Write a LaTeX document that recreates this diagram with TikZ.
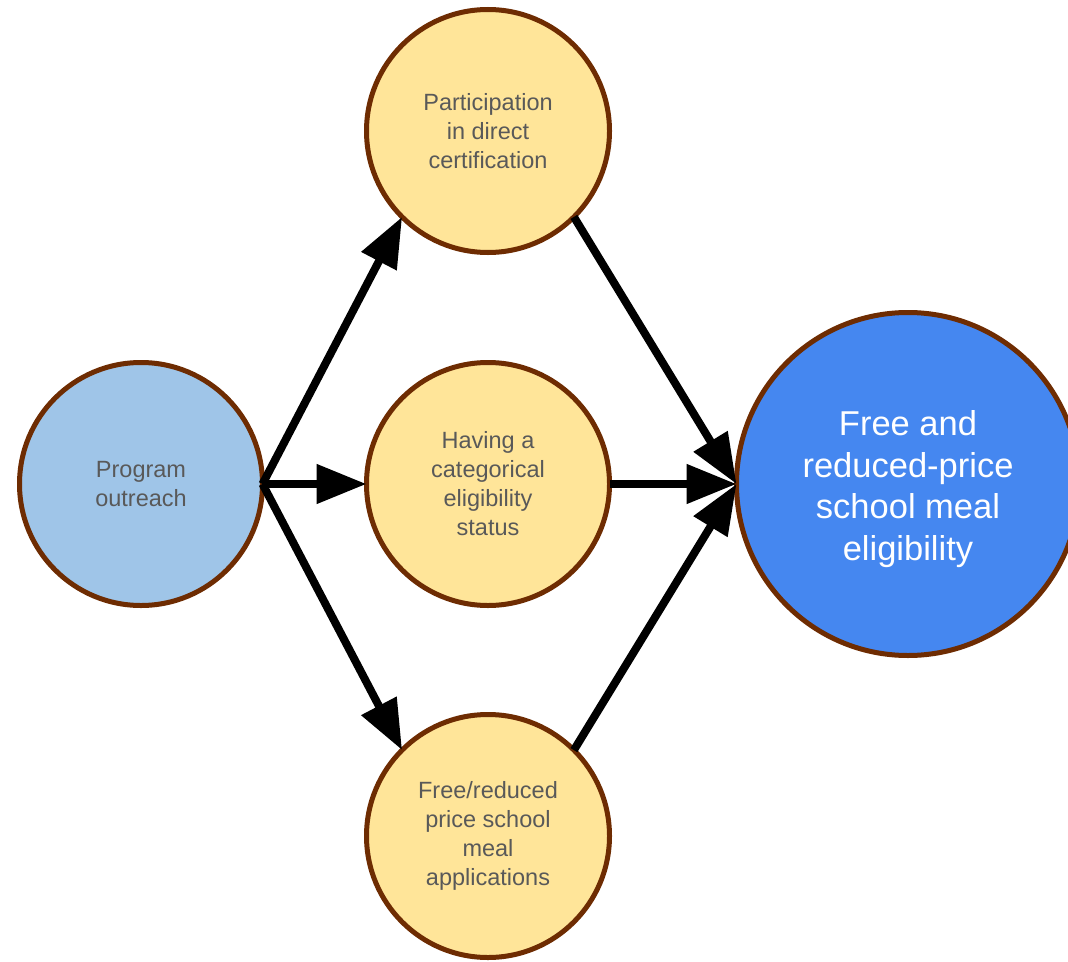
\documentclass[tikz,border=0pt]{standalone}
\usepackage{fontspec}
\setmainfont{Liberation Sans}
\usetikzlibrary{arrows.meta}
\definecolor{outlinebrown}{HTML}{6E2C02}
\definecolor{lightblue}{HTML}{9FC5E8}
\definecolor{lightyellow}{HTML}{FFE599}
\definecolor{mainblue}{HTML}{4587F0}
\definecolor{textgray}{HTML}{595959}
\tikzset{
  circ/.style={circle, draw=outlinebrown, line width=5pt, outer sep=0pt, inner sep=0pt, align=center},
  smallcirc/.style={circ, minimum size=243pt, text=textgray, font=\fontsize{23.5pt}{29pt}\selectfont},
  bigcirc/.style={circ, minimum size=343pt, fill=mainblue},
  bigtext/.style={align=center, text=white, font=\fontsize{34.5pt}{41.5pt}\selectfont},
  conn/.style={line width=8pt, -{Triangle[length=50pt,width=38pt]}}
}
\begin{document}
\begin{tikzpicture}[x=1pt,y=-1pt]
\useasboundingbox (0,0) rectangle (1068,961);
\fill[white] (0,0) rectangle (1068,961);
\node[smallcirc, fill=lightblue] (outreach) at (141,484) {Program\\outreach};
\node[smallcirc, fill=lightyellow] (part) at (488,131) {Participation\\in direct\\certification};
\node[smallcirc, fill=lightyellow] (cat) at (488,484) {Having a\\categorical\\eligibility\\status};
\node[smallcirc, fill=lightyellow] (app) at (488,836) {Free/reduced\\price school\\meal\\applications};
\node[bigcirc] (elig) at (908,484) {};
\node[bigtext] (eligtext) at (908,489) {Free and\\reduced-price\\school meal\\eligibility};
\draw[conn] (outreach.east) -- (part.south west);
\draw[conn] (outreach.east) -- (cat.west);
\draw[conn] (outreach.east) -- (app.north west);
\draw[conn] (part.south east) -- (elig.west);
\draw[conn] (cat.east) -- (elig.west);
\draw[conn] (app.north east) -- (elig.west);
\end{tikzpicture}
\end{document}
